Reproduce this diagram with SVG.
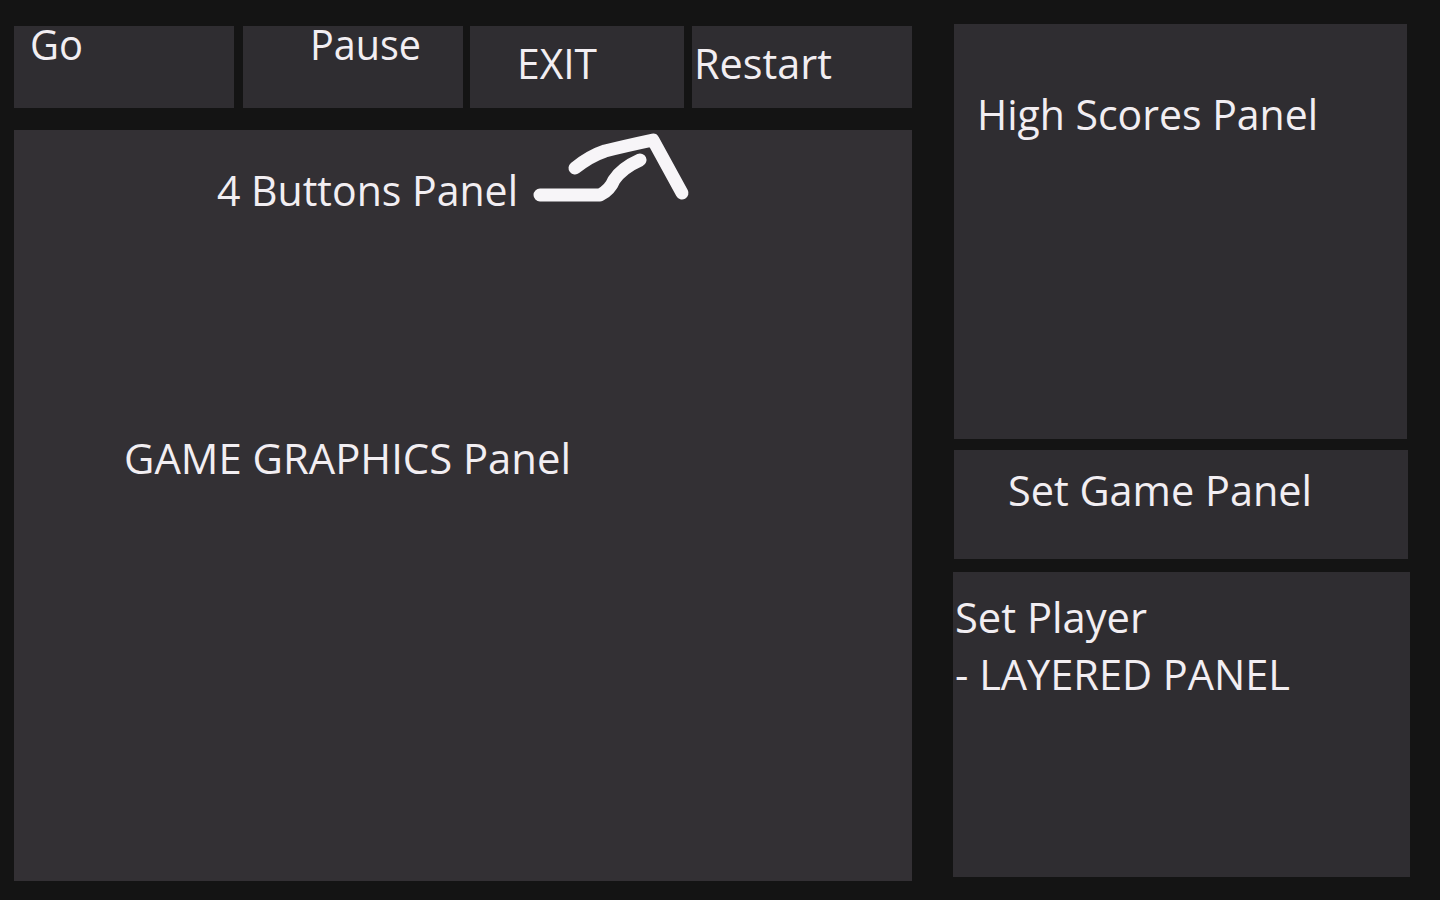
<svg xmlns="http://www.w3.org/2000/svg" width="1440" height="900" viewBox="0 0 1440 900">
<style>
.bg{fill:#141414}
.p{fill:#2f2d31}
.g{fill:#333034}
text{font-family:"Open Sans","Noto Sans","Liberation Sans",sans-serif;font-size:42px;fill:#f2eef2}
.arrow{fill:none;stroke:#f7f5f8;stroke-width:13;stroke-linecap:round;stroke-linejoin:round}
</style>
<rect class="bg" x="0" y="0" width="1440" height="900"/>
<g id="btn-go"><rect class="p" x="14" y="26" width="220" height="82"/><text x="30" y="60" textLength="53" lengthAdjust="spacingAndGlyphs">Go</text></g>
<g id="btn-pause"><rect class="p" x="243" y="26" width="220" height="82"/><text x="310" y="60" textLength="111" lengthAdjust="spacingAndGlyphs">Pause</text></g>
<g id="btn-exit"><rect class="p" x="470" y="26" width="214" height="82"/><text x="517" y="79" textLength="80" lengthAdjust="spacingAndGlyphs">EXIT</text></g>
<g id="btn-restart"><rect class="p" x="692" y="26" width="220" height="82"/><text x="694" y="79" textLength="138" lengthAdjust="spacingAndGlyphs">Restart</text></g>
<g id="game-graphics"><rect class="g" x="14" y="130" width="898" height="751"/><text x="217" y="206" textLength="301" lengthAdjust="spacingAndGlyphs">4 Buttons Panel</text><text x="124" y="474" textLength="447" lengthAdjust="spacingAndGlyphs">GAME GRAPHICS Panel</text></g>
<g id="high-scores"><rect class="p" x="954" y="24" width="453" height="415"/><text x="977" y="130" textLength="341" lengthAdjust="spacingAndGlyphs">High Scores Panel</text></g>
<g id="set-game"><rect class="p" x="954" y="450" width="454" height="109"/><text x="1008" y="506" textLength="304" lengthAdjust="spacingAndGlyphs">Set Game Panel</text></g>
<g id="set-player"><rect class="p" x="953" y="572" width="457" height="305"/><text x="955" y="633" textLength="192" lengthAdjust="spacingAndGlyphs">Set Player</text><text x="955" y="690" textLength="335" lengthAdjust="spacingAndGlyphs">- LAYERED PANEL</text></g>
<g id="connectors">
<path class="arrow" d="M540 195 L600 195 Q610 190 614 180 Q622 168 640 160"/>
<path class="arrow" d="M575 168 Q590 156 605 151 Q625 146 653 140 L682 193"/>
</g>
</svg>
